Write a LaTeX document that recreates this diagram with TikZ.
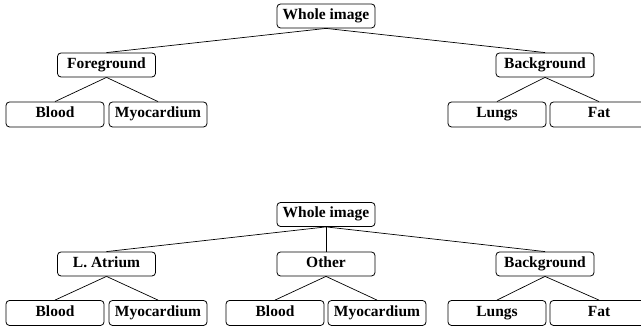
\documentclass[tikz,border=0pt]{standalone}
\usepackage{fontspec}
\setmainfont{Liberation Serif}
\usetikzlibrary{positioning}

\begin{document}
\begin{tikzpicture}[x=1pt, y=1pt, every node/.style={font=\fontsize{15.5}{18}\selectfont\bfseries}]
\tikzset{cls/.style={draw, rounded corners=3.5pt, line width=0.8pt, minimum width=98pt, minimum height=24pt, text height=10.5pt, text depth=3.5pt, inner sep=1pt}}
\tikzset{leaf/.style={cls, minimum height=25pt}}
\tikzset{br/.style={line width=0.7pt}}
\useasboundingbox (0,0) rectangle (641,328);
% upper tree
\node[cls] (w1) at (326,312) {Whole image};
\node[cls] (fg) at (106.5,263) {Foreground};
\node[cls] (bg1) at (545,263) {Background};
\node[leaf] (bl1) at (55,213.5) {Blood};
\node[leaf] (my1) at (158,213.5) {Myocardium};
\node[leaf] (lu1) at (497,213.5) {Lungs};
\node[leaf] (fa1) at (599,213.5) {Fat};
\draw[br] (w1.south)--(fg.north);
\draw[br] (w1.south)--(bg1.north);
\draw[br] (fg.south)--(bl1.north);
\draw[br] (fg.south)--(my1.north);
\draw[br] (bg1.south)--(lu1.north);
\draw[br] (bg1.south)--(fa1.north);
% lower tree
\node[cls] (w2) at (326,113.5) {Whole image};
\node[cls] (la) at (106.5,64) {L. Atrium};
\node[cls] (ot) at (326,64) {Other};
\node[cls] (bg2) at (545,64) {Background};
\node[leaf] (bl2) at (55,15) {Blood};
\node[leaf] (my2) at (158,15) {Myocardium};
\node[leaf] (bl3) at (275,15) {Blood};
\node[leaf] (my3) at (377,15) {Myocardium};
\node[leaf] (lu2) at (497,15) {Lungs};
\node[leaf] (fa2) at (599,15) {Fat};
\draw[br] (w2.south)--(la.north);
\draw[br] (w2.south)--(ot.north);
\draw[br] (w2.south)--(bg2.north);
\draw[br] (la.south)--(bl2.north);
\draw[br] (la.south)--(my2.north);
\draw[br] (ot.south)--(bl3.north);
\draw[br] (ot.south)--(my3.north);
\draw[br] (bg2.south)--(lu2.north);
\draw[br] (bg2.south)--(fa2.north);
\end{tikzpicture}
\end{document}
